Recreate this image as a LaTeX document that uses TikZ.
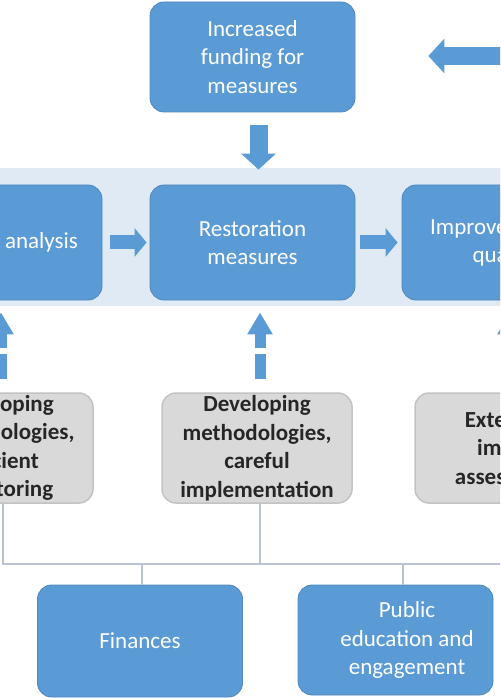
\documentclass[tikz,border=0pt]{standalone}
\usepackage{fontspec}
\setmainfont{Carlito}
\usetikzlibrary{arrows.meta}
\definecolor{boxblue}{HTML}{5B9BD5}
\definecolor{bandblue}{HTML}{DFEAF5}
\definecolor{boxgray}{HTML}{D9D9D9}
\definecolor{graydraw}{HTML}{C3C3C3}
\definecolor{linegray}{HTML}{B9C3D3}
\begin{document}
\begin{tikzpicture}[x=1pt,y=-1pt,
  bluebox/.style={rectangle, rounded corners=14pt, fill=boxblue, draw=boxblue!88!black, line width=0.8pt,
    text=white, align=center, font=\fontsize{23}{28.5}\selectfont, inner sep=0pt,
    minimum width=205pt, minimum height=115pt},
  graybox/.style={rectangle, rounded corners=14pt, fill=boxgray, draw=graydraw, line width=1.5pt,
    text=black!85, align=center, font=\fontsize{23}{28.5}\selectfont\bfseries, inner sep=0pt,
    minimum width=190pt, minimum height=110pt},
  blockarrow/.style={draw=boxblue, line width=14pt, -{Triangle[width=28pt,length=12pt]}},
  bigarrow/.style={draw=boxblue, line width=18pt, -{Triangle[width=34pt,length=16pt]}},
  dasharrow/.style={draw=boxblue, line width=11pt, dash pattern=on 25pt off 6pt on 40pt,
    -{Triangle[width=24pt,length=22pt]}},
  conn/.style={draw=linegray, line width=2pt}
]
\useasboundingbox (0,0) rectangle (500,700);
\clip (0,0) rectangle (500,700);
\fill[white] (0,0) rectangle (500,700);
% band
\fill[bandblue] (-10,168) rectangle (510,306);
% top box
\node[bluebox, minimum height=110pt] (top) at (252.5,57) {Increased\\funding for\\measures};
% band boxes
\node[bluebox] (lb) at (-0.5,242.5) {Problem analysis};
\node[bluebox] (mb) at (252.5,242.5) {Restoration\\measures};
\node[bluebox] (rb) at (504.5,242.5) {Improved water\\quality};
% gray boxes
\node[graybox, minimum width=186pt] (lg) at (0,448) {Developing\\methodologies,\\efficient\\monitoring};
\node[graybox] (mg) at (257,448) {Developing\\methodologies,\\careful\\implementation};
\node[graybox] (rg) at (510,448) {Extensive\\impact\\assessment};
% bottom boxes
\node[bluebox, minimum height=112pt] (fin) at (140,641) {Finances};
\node[bluebox, minimum width=195pt, minimum height=110pt] (pub) at (395.5,640) {};
\node[text=white, align=center, font=\fontsize{23}{28.5}\selectfont, inner sep=0pt] (publbl) at (407,640) {Public\\education and\\engagement};
% arrows
\coordinate (ext) at (515,56);
\draw[bigarrow] (ext) -- ([xshift=73pt,yshift=1pt]top.east);
\draw[bigarrow] ([xshift=6pt,yshift=-13pt]top.south) -- ([xshift=6pt,yshift=15pt]mb.north);
\draw[blockarrow] ([xshift=8pt]lb.east) -- ([xshift=-3pt]mb.west);
\draw[blockarrow] ([xshift=5pt]mb.east) -- ([xshift=-4pt]rb.west);
\draw[dasharrow] ([xshift=1pt,yshift=13pt]lg.north) -- ([xshift=1.5pt,yshift=-12pt]lb.south);
\draw[dasharrow] ([xshift=3pt,yshift=13pt]mg.north) -- ([xshift=7.5pt,yshift=-12pt]mb.south);
\draw[dasharrow] ([xshift=0pt,yshift=13pt]rg.north) -- ([xshift=5.5pt,yshift=-12pt]rb.south);
% connectors
\path ([xshift=3pt]lg.south) ++(0,60) coordinate (busL);
\path ([xshift=0pt]rg.south) ++(0,60) coordinate (busR);
\draw[conn] ([xshift=3pt]lg.south) -- (busL) -- (busR) -- ([xshift=0pt]rg.south);
\draw[conn] ([xshift=3pt]mg.south) -- ([xshift=3pt]mg.south |- busL);
\draw[conn] ([xshift=2pt]fin.north |- busL) -- ([xshift=2pt]fin.north);
\draw[conn] ([xshift=7.5pt]pub.north |- busL) -- ([xshift=7.5pt]pub.north);
\end{tikzpicture}
\end{document}
